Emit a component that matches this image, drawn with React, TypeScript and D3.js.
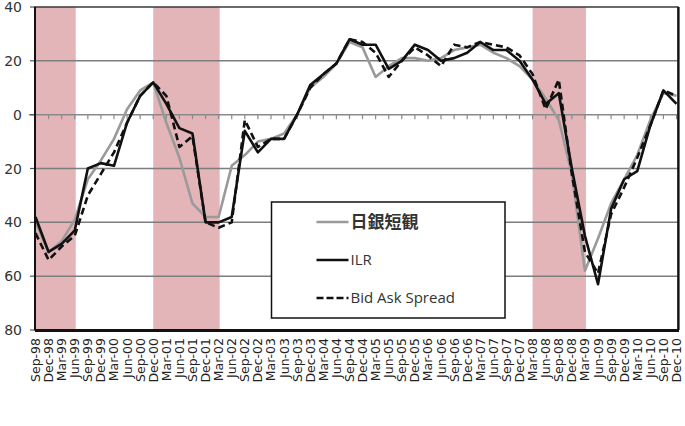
import React from 'react';
import * as d3 from 'd3';

// quarterly labels, Sep-98 .. Dec-10
const quarters = [
  'Sep-98', 'Dec-98',
  'Mar-99', 'Jun-99', 'Sep-99', 'Dec-99',
  'Mar-00', 'Jun-00', 'Sep-00', 'Dec-00',
  'Mar-01', 'Jun-01', 'Sep-01', 'Dec-01',
  'Mar-02', 'Jun-02', 'Sep-02', 'Dec-02',
  'Mar-03', 'Jun-03', 'Sep-03', 'Dec-03',
  'Mar-04', 'Jun-04', 'Sep-04', 'Dec-04',
  'Mar-05', 'Jun-05', 'Sep-05', 'Dec-05',
  'Mar-06', 'Jun-06', 'Sep-06', 'Dec-06',
  'Mar-07', 'Jun-07', 'Sep-07', 'Dec-07',
  'Mar-08', 'Jun-08', 'Sep-08', 'Dec-08',
  'Mar-09', 'Jun-09', 'Sep-09', 'Dec-09',
  'Mar-10', 'Jun-10', 'Sep-10', 'Dec-10'
];

// 日銀短観 (grey)
const tankan = [
  -40, -51,
  -47, -39, -24, -17,
  -9, 2, 9, 12,
  -3, -16, -33, -38,
  -38, -19, -15, -10,
  -9, -7, 0, 10,
  14, 19, 27, 25,
  14, 18, 21, 21,
  20, 21, 24, 25,
  26, 23, 21, 18,
  13, 6, -2, -22,
  -58, -46, -33, -24,
  -15, -2, 8, 7
];

// ILR (solid black)
const ilr = [
  -38, -51,
  -48, -43, -20, -18,
  -19, -3, 7, 12,
  4, -5, -7, -40,
  -40, -38, -6, -14,
  -9, -9, 0, 11,
  15, 19, 28, 26,
  26, 17, 20, 26,
  24, 20, 21, 23,
  27, 24, 24, 20,
  13, 4, 8, -20,
  -45, -63, -35, -24,
  -21, -4, 9, 4
];

// Bid Ask Spread (dashed black)
const bidAsk = [
  -44, -54,
  -49, -45, -30, -22,
  -14, -3, 7, 12,
  7, -12, -8, -40,
  -42, -40, -2, -12,
  -9, -9, 0, 10,
  15, 19, 28, 27,
  23, 14, 20, 25,
  22, 18, 26, 25,
  27, 26, 25, 22,
  15, 2, 13, -22,
  -51, -59, -37, -27,
  -16, -4, 9, 7
];

// shaded periods (start, end quarter)
const recessions: [string, string][] = [
  ['Sep-98', 'Jun-99'],
  ['Dec-00', 'Mar-02'],
  ['Mar-08', 'Mar-09']
];

const yTicks = [40, 20, 0, -20, -40, -60, -80];

const seriesNames = ['日銀短観', 'ILR', 'Bid Ask Spread'];

const W = 685;
const H = 426;
const plot = { left: 35, right: 678, top: 7, bottom: 330 };

export default function App() {
  const x = d3.scalePoint<string>()
    .domain(quarters)
    .range([plot.left + 0.5, plot.right - 1.5]);
  const y = d3.scaleLinear().domain([-80, 40]).range([plot.bottom, plot.top]);

  const line = d3.line<number>()
    .x((_, i) => x(quarters[i]) as number)
    .y(d => y(d));

  const series = [
    { name: seriesNames[0], values: tankan, color: '#9a9a9a', dash: null as string | null },
    { name: seriesNames[1], values: ilr, color: '#111', dash: null },
    { name: seriesNames[2], values: bidAsk, color: '#111', dash: '7,4' }
  ];

  const legend = { x: 271.5, y: 202, w: 233.5, h: 116 };

  return (
    <svg width={W} height={H} style={{ position: 'absolute', left: 0, top: 0, background: '#fff' }}>
      <style>{`body { margin: 0; }`}</style>
      <rect x={0} y={0} width={W} height={H} fill="#fff" />

      {/* shaded periods */}
      {recessions.map(([a, b]) => (
        <rect
          key={a}
          x={x(a)}
          y={plot.top}
          width={(x(b) as number) - (x(a) as number) + 1}
          height={plot.bottom - plot.top}
          fill="#e3b5b8"
        />
      ))}

      {/* gridlines */}
      {yTicks.filter(t => t !== 0 && t !== 40 && t !== -80).map(t => (
        <line key={t} x1={plot.left} x2={plot.right} y1={y(t)} y2={y(t)} stroke="#7d7d7d" strokeWidth={1.5} />
      ))}

      {/* zero axis with ticks */}
      <line x1={plot.left - 6} x2={plot.right} y1={y(0)} y2={y(0)} stroke="#8a8a8a" strokeWidth={1.5} />
      {quarters.map(q => (
        <line key={q} x1={x(q)} x2={x(q)} y1={y(0)} y2={y(0) + 4.5} stroke="#8a8a8a" strokeWidth={1.2} />
      ))}

      {/* y ticks and labels */}
      {yTicks.map(t => (
        <g key={t}>
          <line x1={plot.left - 5} x2={plot.left} y1={y(t)} y2={y(t)} stroke="#555" strokeWidth={1.2} />
          <text
            x={22}
            y={y(t)}
            dy="0.36em"
            textAnchor="end"
            fontFamily="'DejaVu Sans', sans-serif"
            fontSize={14}
            fill="#333"
          >
            {Math.abs(t)}
          </text>
        </g>
      ))}

      {/* series */}
      {series.map(s => (
        <path
          key={s.name}
          d={line(s.values) || ''}
          fill="none"
          stroke={s.color}
          strokeWidth={2.6}
          strokeDasharray={s.dash || undefined}
          strokeLinejoin="round"
        />
      ))}

      {/* plot frame */}
      <rect
        x={plot.left}
        y={plot.top}
        width={plot.right - plot.left}
        height={plot.bottom - plot.top}
        fill="none"
        stroke="#3a3a3a"
        strokeWidth={1.5}
      />
      <line x1={plot.left} x2={plot.right + 1} y1={plot.bottom + 0.5} y2={plot.bottom + 0.5} stroke="#111" strokeWidth={3} />
      <line x1={plot.right + 0.5} x2={plot.right + 0.5} y1={plot.top} y2={plot.bottom} stroke="#111" strokeWidth={2.2} />
      <line x1={plot.left} x2={plot.left} y1={plot.top} y2={plot.bottom} stroke="#111" strokeWidth={2} />

      {/* x labels */}
      {quarters.map(q => (
        <text
          key={q}
          transform={`translate(${(x(q) as number) + 4.5},${plot.bottom + 8}) rotate(-90)`}
          textAnchor="end"
          fontFamily="'DejaVu Sans', sans-serif"
          fontSize={12.5}
          fill="#222"
        >
          {q}
        </text>
      ))}

      {/* legend */}
      <rect x={legend.x} y={legend.y} width={legend.w} height={legend.h} fill="#fff" stroke="#111" strokeWidth={1.5} />
      {series.map((s, i) => {
        const ly = legend.y + 20 + i * 38;
        return (
          <g key={s.name}>
            <line
              x1={legend.x + 45}
              x2={legend.x + 77}
              y1={ly}
              y2={ly}
              stroke={s.color}
              strokeWidth={2.6}
              strokeDasharray={s.dash ? '7,3' : undefined}
            />
            <text
              x={legend.x + 79}
              y={ly}
              dy="0.36em"
              fontFamily={i === 0 ? "'Noto Sans CJK JP', sans-serif" : "'Open Sans', sans-serif"}
              fontSize={i === 0 ? 17 : 15}
              fontWeight={i === 0 ? 600 : 500}
              fill="#333"
            >
              {s.name}
            </text>
          </g>
        );
      })}
    </svg>
  );
}
